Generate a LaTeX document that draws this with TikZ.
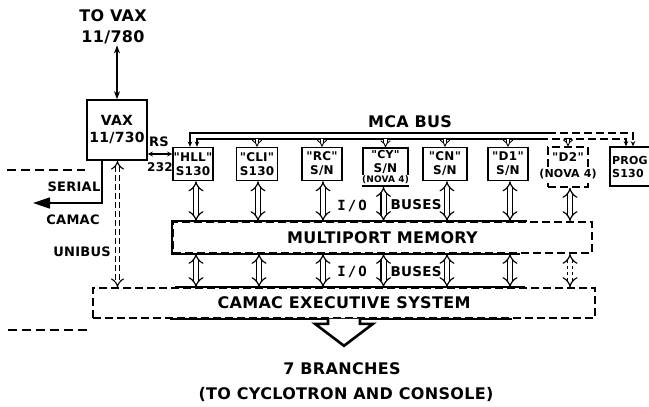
\documentclass[tikz,border=0pt]{standalone}
\usepackage{fontspec}
\setmainfont{DejaVu Sans}[LetterSpace=2, Ligatures=TeXOff]
\setmonofont{DejaVu Sans Mono}[LetterSpace=15]
\usetikzlibrary{arrows.meta,calc}
\tikzset{
  big/.style={font=\bfseries\fontsize{16}{21}\selectfont, inner sep=1pt},
  mid/.style={font=\bfseries\fontsize{13}{15}\selectfont, inner sep=1pt},
  box/.style={draw, line width=1.6pt, align=center, inner sep=0pt},
  modbox/.style={box, font=\bfseries\fontsize{12}{14}\selectfont, minimum width=40pt, minimum height=33pt},
  modtxt/.style={font=\bfseries\fontsize{12}{14}\selectfont, inner sep=0pt, align=center},
  novatxt/.style={font=\bfseries\fontsize{9}{10}\selectfont, inner sep=1pt, fill=white},
  dsh/.style={dash pattern=on 8pt off 4pt},
  io/.style={double, double distance=4pt, line width=1.2pt, {Implies}-{Implies}},
  tick/.style={double, double distance=2.6pt, line width=0.9pt, -{Implies}},
  busl/.style={line width=1.4pt},
  lfd/.style={line width=1.6pt, dash pattern=on 9pt off 5pt},
}
\begin{document}
\begin{tikzpicture}[x=1pt,y=-1pt]
\useasboundingbox (0,0) rectangle (649,407);

% top
\node[big, align=center] (tovax) at (113,27) {TO VAX\\11/780};
\node[box, minimum width=60pt, minimum height=60pt, font=\bfseries\fontsize{14}{17}\selectfont] (vax) at (117,130) {VAX\\11/730};
\draw[line width=1.4pt, {Stealth[length=8pt,width=6pt]}-{Stealth[length=8pt,width=6pt]}] (vax.north) -- (vax.north |- tovax.south);

% modules
\node[modbox] (hll) at (193,164) {"HLL"\\S130};
\node[modbox, minimum width=41pt] (cli) at (257,164) {"CLI"\\S130};
\node[modbox] (rc) at (322,164) {"RC"\\S/N};
\node[box, minimum width=45pt, minimum height=38pt] (cy) at (385.5,167) {};
\node[modtxt] (cyt) at (385.5,162) {\fontsize{11}{13}\selectfont"CY"\\S/N};
\node[novatxt] (cyn) at (385.5,180) {(NOVA 4)};
\node[modbox, minimum width=44pt] (cn) at (445,164) {"CN"\\S/N};
\node[modbox] (d1) at (508,164) {"D1"\\S/N};
\node[box, dsh, minimum width=40pt, minimum height=40pt] (d2) at (568,167) {};
\node[modtxt] (d2t) at (568,157) {"D2"};
\node[novatxt, font=\bfseries\fontsize{11}{12}\selectfont, inner sep=0.5pt] (d2n) at (568,174) {(NOVA 4)};
\node[box, minimum width=50pt, minimum height=39pt] (prog) at (635,166.5) {};
\node[modtxt, anchor=west, align=left, font=\bfseries\fontsize{11}{13}\selectfont] (progt) at (612,166.5) {PROG\\S130};

% RS-232
\draw[line width=1.3pt, {Stealth[length=5pt,width=5pt]}-{Stealth[length=5pt,width=5pt]}] (vax.east |- 0,154) -- (hll.west |- 0,154);
\node[mid] (rs) at (159,142) {RS};
\node[mid, font=\bfseries\fontsize{12}{14}\selectfont] (rs2) at (160,167) {232};

% MCA bus
\node[big] (mca) at (410,122) {MCA BUS};
\coordinate (bt1) at (548,133);
\coordinate (bb1) at (540,139);
\draw[busl, {Stealth[length=5pt,width=4.5pt]}-] (hll.north -| 190,0) |- (bt1);
\draw[busl, {Stealth[length=5pt,width=4.5pt]}-] (hll.north -| 197,0) |- (bb1);
\draw[busl, dsh, -{Stealth[length=5pt,width=4.5pt]}] (bt1) -| (prog.north -| 633,0);
\draw[busl, dsh, -{Stealth[length=5pt,width=4.5pt]}] (bb1) -| (prog.north -| 626,0);
\foreach \m in {cli,rc,cy,cn,d1,d2}{
  \draw[tick] (\m.north |- bb1) -- (\m.north);
}

% multiport memory
\node[box, dsh, minimum width=419pt, minimum height=31pt, font=\bfseries\fontsize{16}{18}\selectfont] (mp) at (382.5,237.5) {MULTIPORT MEMORY};
\draw[line width=1.6pt] (mp.north -| 527,0) -- (mp.north west) -- (mp.south west) -- (mp.south -| 520,0);

% camac executive
\node[box, dsh, minimum width=502pt, minimum height=30pt, font=\bfseries\fontsize{16}{18}\selectfont] (camac) at (344,303) {CAMAC EXECUTIVE SYSTEM};
\draw[line width=1.6pt] (camac.north -| 175,0) -- (camac.north -| 525,0);
\draw[line width=1.6pt] (camac.south -| 170,0) -- (camac.south -| 512,0);

% I/O buses
\foreach \m/\dx in {hll/3,cli/1,rc/1,cy/-2,cn/2,d1/2,d2/2}{
  \draw[io] ([xshift=\dx pt]\m.south) -- ([xshift=\dx pt]\m.south |- mp.north);
}
\foreach \m/\dx in {hll/3,cli/2,rc/1,cy/-2,cn/2,d1/2}{
  \draw[io] ([xshift=\dx pt]\m.south |- mp.south) -- ([xshift=\dx pt]\m.south |- camac.north);
}
\draw[io, dashed] ([xshift=2pt]d2.south |- mp.south) -- ([xshift=2pt]d2.south |- camac.north);
\node[font=\ttfamily\bfseries\fontsize{14}{16}\selectfont, inner sep=0pt] (io1) at (352,206) {I/O};
\node[font=\ttfamily\bfseries\fontsize{14}{16}\selectfont, inner sep=0pt] (io2) at (352,272) {I/O};
\node[mid, font=\bfseries\fontsize{13.5}{15}\selectfont] (bus1) at (416,205) {BUSES};
\node[mid, font=\bfseries\fontsize{13.5}{15}\selectfont] (bus2) at (416,272) {BUSES};

% unibus
\draw[double, double distance=3.4pt, line width=1.1pt, dash pattern=on 6pt off 3pt, {Implies}-{Implies}] (vax.south -| 117.5,0) -- (camac.north -| 117.5,0);
\node[mid, anchor=east] (unib) at (112,252) {UNIBUS};

% serial camac
\coordinate (serialend) at (33,203);
\draw[line width=1.6pt, -{Triangle[length=17pt,width=11pt]}] (vax.south -| 102,0) |- (serialend);
\node[mid] (ser) at (74,187) {SERIAL};
\node[mid] (cam) at (73,220) {CAMAC};

% left dashed lines
\coordinate (la1) at (7,170);
\coordinate (la2) at (85,170);
\coordinate (lb1) at (8,330);
\coordinate (lb2) at (88,330);
\draw[lfd] (la1) -- (la2);
\draw[lfd] (lb1) -- (lb2);

% big down arrow
\draw[line width=2.6pt, line join=miter, fill=white] ($(camac.south)+(-16,0)$) -- ++(0,5) -- ++(-13,0) -- ++(29,22) -- ++(29,-22) -- ++(-13,0) -- ++(0,-5);

\node[big] (br1) at (342,369) {7 BRANCHES};
\node[big] (br2) at (346,394) {(TO CYCLOTRON AND CONSOLE)};
\end{tikzpicture}
\end{document}
